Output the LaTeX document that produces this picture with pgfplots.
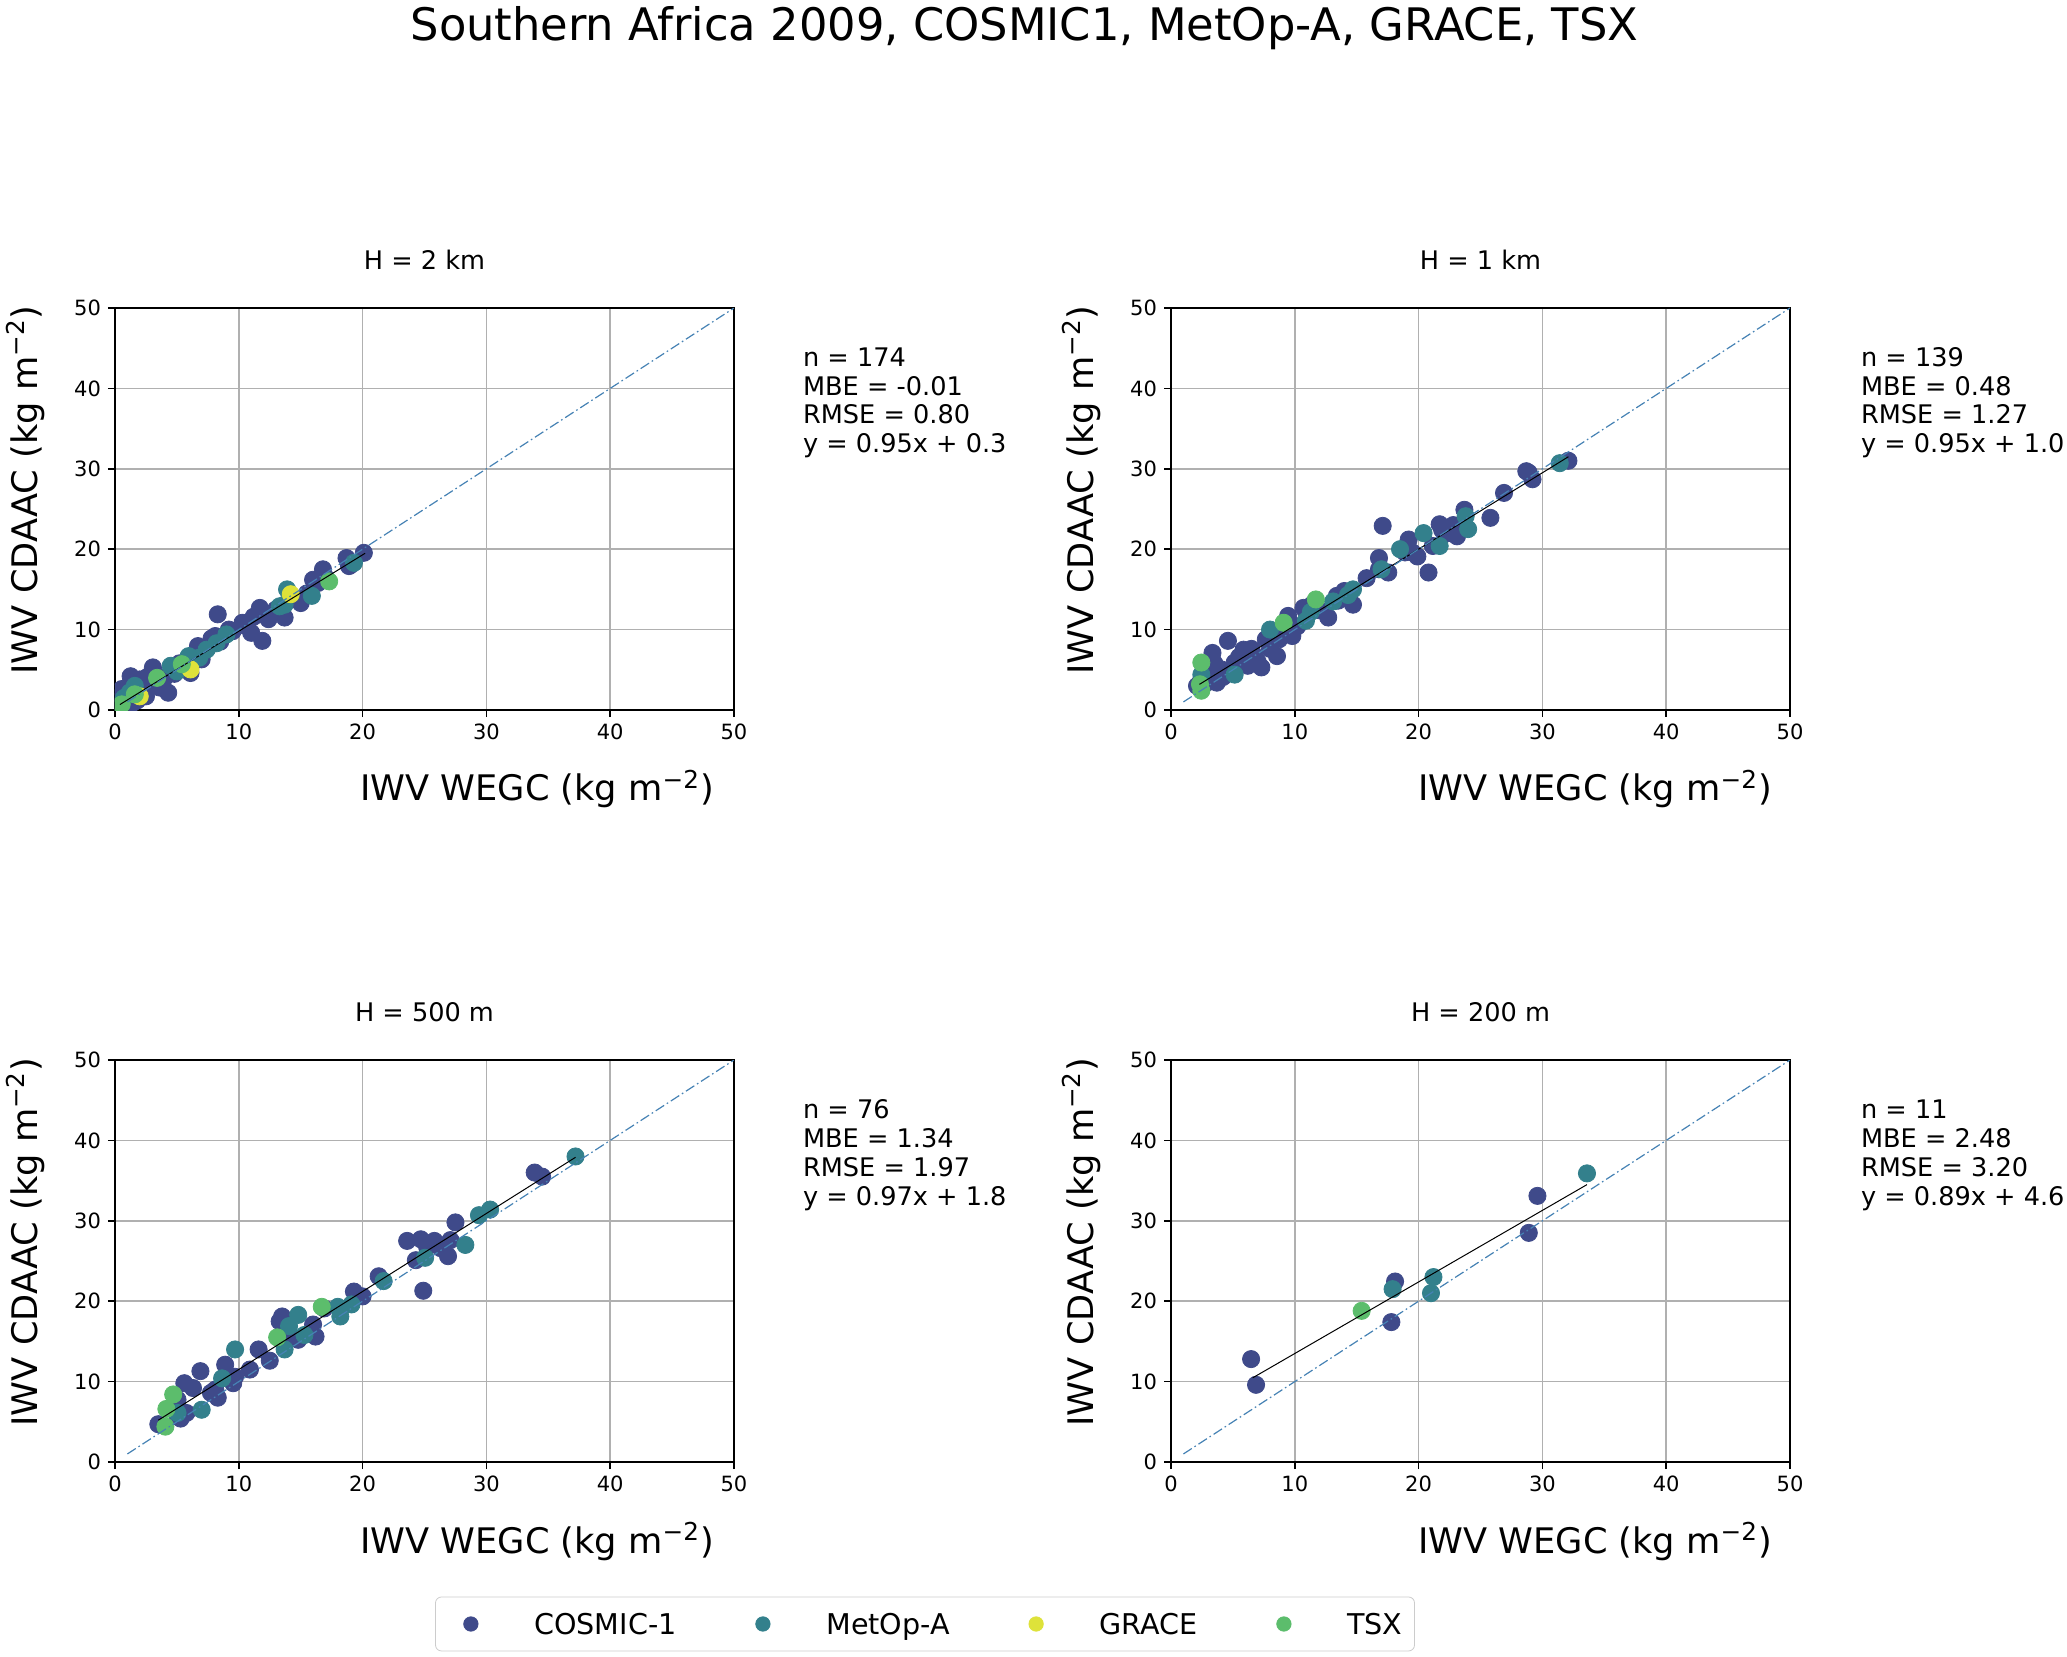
\documentclass[border=0pt]{standalone}
\usepackage{fontspec}
\setmainfont{DejaVu Sans}
\usepackage{pgfplots}
\pgfplotsset{compat=1.18}
\definecolor{cosmic}{HTML}{3F4A8A}
\definecolor{metop}{HTML}{33808C}
\definecolor{grace}{HTML}{DEE23A}
\definecolor{tsx}{HTML}{5CBD6C}
\definecolor{diag}{HTML}{4682B4}
\newcommand{\unitlab}{(kg m\textsuperscript{−2})}
\pgfplotsset{
  panel/.style={
    scale only axis, width=309.5pt, height=201pt, anchor=south west,
    xmin=0, xmax=50, ymin=0, ymax=50,
    xtick={0,10,...,50}, ytick={0,10,...,50},
    grid=major, major grid style={color=black!31, line width=0.8pt},
    tick align=outside, major tick length=3.5pt, tick pos=left,
    axis line style={line width=0.8pt},
    every tick/.style={black, line width=0.8pt},
    ticklabel style={font=\fontsize{10.5}{12}\selectfont},
    /pgf/number format/assume math mode=true,
    clip marker paths=true,
    legend image code/.code={\draw[#1, mark size=3.6pt] plot coordinates {(11.5pt,0pt)}; \path (0pt,0pt) (43pt,0pt);},
  },
  sc/.style={only marks, mark=*, mark size=4.3pt, color=#1, mark options={draw=none, fill=#1}},
  reg/.style={black, line width=0.5pt, forget plot},
  one/.style={diag, line width=0.6pt, dash pattern=on 5pt off 1.6pt on 0.8pt off 1.6pt, forget plot},
}
\begin{document}
\begin{tikzpicture}
\path[use as bounding box] (0pt,0pt) rectangle (1033.5pt,828pt);
\node[anchor=base, font=\fontsize{22.4}{26}\selectfont] at (512.25pt,807.5pt) {Southern Africa 2009, COSMIC1, MetOp-A, GRACE, TSX};

% ---------------- Panel 1: H = 2 km
\begin{axis}[panel, at={(57.5pt,473pt)},
  legend columns=4, legend cell align=left,
  legend style={at={(1.3086,-2.2736)}, anchor=center, draw=black!20, rounded corners=3pt,
    inner xsep=6pt, inner ysep=8.3pt, font=\fontsize{14.3}{16}\selectfont,
    nodes={inner sep=0pt, text height=10.4pt, text depth=0pt},
    /tikz/every even column/.append style={column sep=31.5pt}},
  ]
\addplot[sc=cosmic] coordinates {(0.54,2.6)(1.26,4.2)(2.0,3.8)(0.9,1.3)(2.5,1.7)(3.06,5.3)(4.3,2.15)(3.8,3.4)(5.6,5.05)(6.1,4.6)(6.7,7.95)(7.0,6.3)(8.3,11.9)(8.1,9.2)(9.2,10.0)(10.3,10.85)(11.0,9.6)(11.9,8.6)(11.7,12.7)(12.4,11.3)(13.7,11.5)(15.0,13.3)(16.0,16.2)(16.8,17.5)(18.7,18.9)(18.9,17.9)(20.1,19.55)(1.44,0.9)(0.3,0.5)(0.5,1.8)(1.0,2.8)(1.5,3.5)(2.2,2.5)(2.8,3.0)(3.2,4.5)(3.6,2.8)(4.0,4.0)(4.8,4.5)(5.2,5.8)(6.5,6.2)(7.5,7.8)(8.5,8.5)(9.5,9.8)(10.5,10.5)(12.0,12.0)(13.0,12.5)(14.5,13.8)(15.5,14.5)(17.0,16.5)(19.0,18.0)(1.8,1.2)(0.2,1.0)(2.6,4.1)(4.6,5.2)(7.8,8.9)(11.2,11.6)(16.4,15.8)};
\addlegendentry{COSMIC-1}
\addplot[sc=metop] coordinates {(1.6,3.0)(4.5,5.5)(5.95,6.7)(7.4,7.5)(9.0,9.4)(13.7,13.1)(13.9,15.0)(15.9,14.2)(19.3,18.3)(0.72,1.5)(1.2,2.2)(5.0,4.8)(6.8,6.5)(8.2,8.3)(13.3,12.9)};
\addlegendentry{MetOp-A}
\addplot[sc=grace] coordinates {(2.0,1.7)(6.1,5.05)(14.2,14.4)};
\addlegendentry{GRACE}
\addplot[sc=tsx] coordinates {(0.54,0.7)(1.6,1.95)(3.4,4.0)(5.4,5.7)(17.3,16.0)(0.3,0.2)};
\addlegendentry{TSX}
\addplot[reg] coordinates {(0.4,0.68)(20.2,19.49)};
\addplot[one] coordinates {(1,1)(50,50)};
\end{axis}

% ---------------- Panel 2: H = 1 km
\begin{axis}[panel, at={(585.5pt,473pt)}]
\addplot[sc=cosmic] coordinates {(2.1,3.0)(2.45,3.8)(3.0,4.6)(3.35,7.1)(3.7,3.4)(4.06,5.05)(4.6,8.6)(5.14,5.9)(5.86,7.5)(6.2,5.5)(6.76,6.7)(7.3,5.3)(7.66,8.8)(8.56,6.7)(8.74,8.8)(9.46,11.7)(9.8,9.2)(10.2,10.4)(10.7,12.7)(11.4,13.1)(12.7,11.5)(13.4,14.2)(14.0,14.8)(14.7,13.1)(15.8,16.4)(16.8,18.9)(16.8,17.5)(17.1,22.9)(17.55,17.1)(19.2,21.2)(19.5,19.6)(19.9,19.1)(20.8,17.1)(21.15,20.4)(21.7,23.1)(22.4,22.0)(23.1,21.6)(23.7,24.9)(25.8,23.9)(26.9,27.0)(28.7,29.7)(29.2,28.7)(32.1,31.0)(2.8,3.3)(3.5,5.8)(4.2,4.1)(5.5,6.6)(6.5,7.6)(7.0,6.0)(8.0,7.6)(9.0,9.6)(11.0,11.8)(12.0,12.4)(13.5,13.6)(18.9,19.6)(21.9,22.4)(22.8,23.0)(28.9,29.5)};
\addplot[sc=metop] coordinates {(2.45,4.4)(5.14,4.4)(8.0,10.0)(10.9,11.1)(13.1,13.5)(14.7,15.0)(17.0,17.5)(20.4,22.0)(21.7,20.4)(23.8,24.1)(24.0,22.5)(31.4,30.7)(11.3,12.2)(18.5,20.0)(14.3,14.3)};
\addplot[sc=tsx] coordinates {(2.45,5.9)(2.34,3.2)(2.45,2.4)(9.1,10.85)(11.7,13.75)};
\addplot[reg] coordinates {(2.3,3.19)(32.1,31.5)};
\addplot[one] coordinates {(1,1)(50,50)};
\end{axis}

% ---------------- Panel 3: H = 500 m
\begin{axis}[panel, at={(57.5pt,97pt)}]
\addplot[sc=cosmic] coordinates {(3.5,4.7)(5.05,7.75)(5.05,5.7)(5.77,6.1)(5.6,9.8)(6.3,9.2)(6.9,11.3)(7.75,8.6)(8.1,9.0)(8.9,12.1)(9.55,9.8)(9.7,10.6)(10.9,11.5)(11.6,14.0)(12.5,12.6)(13.5,18.1)(13.3,17.5)(14.2,15.6)(16.0,17.1)(16.2,15.6)(16.9,19.1)(19.3,21.2)(20.0,20.6)(21.3,23.1)(23.6,27.5)(24.7,27.7)(25.8,27.5)(24.3,25.1)(26.3,26.6)(26.9,25.6)(27.1,27.6)(24.9,21.3)(27.5,29.8)(33.9,36.0)(34.5,35.5)(5.3,5.4)(8.3,8.0)(14.8,15.2)(25.2,26.8)};
\addplot[sc=metop] coordinates {(5.05,6.1)(7.0,6.5)(8.65,10.4)(9.7,14.0)(13.7,14.0)(14.06,16.9)(14.8,18.3)(15.3,15.8)(18.2,18.1)(18.0,19.3)(19.1,19.6)(21.7,22.5)(25.05,25.4)(28.3,27.0)(29.4,30.7)(30.3,31.4)(37.2,38.0)};
\addplot[sc=tsx] coordinates {(4.07,4.4)(4.15,6.6)(4.7,8.4)(13.1,15.5)(16.7,19.3)};
\addplot[reg] coordinates {(3.5,5.2)(37.2,37.9)};
\addplot[one] coordinates {(1,1)(50,50)};
\end{axis}

% ---------------- Panel 4: H = 200 m
\begin{axis}[panel, at={(585.5pt,97pt)}]
\addplot[sc=cosmic] coordinates {(6.47,12.8)(6.87,9.6)(18.1,22.45)(17.8,17.4)(28.9,28.5)(29.6,33.1)};
\addplot[sc=metop] coordinates {(17.9,21.5)(21.2,23.0)(21.0,21.0)(33.6,35.9)};
\addplot[sc=tsx] coordinates {(15.4,18.8)};
\addplot[reg] coordinates {(6.6,10.47)(33.6,34.5)};
\addplot[one] coordinates {(1,1)(50,50)};
\end{axis}

% ---------------- Texts
\begin{scope}[every node/.style={font=\fontsize{12.8}{14}\selectfont}]
\node[anchor=base] at (212.25pt,693pt) {H = 2 km};
\node[anchor=base] at (740.25pt,693pt) {H = 1 km};
\node[anchor=base] at (212.25pt,317.25pt) {H = 500 m};
\node[anchor=base] at (740.25pt,317.25pt) {H = 200 m};
% stats panel 1
\node[anchor=base west] at (398pt,644.5pt) {n = 174};
\node[anchor=base west] at (398pt,630pt) {MBE = -0.01};
\node[anchor=base west] at (398pt,616pt) {RMSE = 0.80};
\node[anchor=base west] at (398pt,601.5pt) {y = 0.95x + 0.3};
% stats panel 2
\node[anchor=base west] at (927pt,644.5pt) {n = 139};
\node[anchor=base west] at (927pt,630pt) {MBE = 0.48};
\node[anchor=base west] at (927pt,616pt) {RMSE = 1.27};
\node[anchor=base west] at (927pt,601.5pt) {y = 0.95x + 1.0};
% stats panel 3
\node[anchor=base west] at (398pt,268.5pt) {n = 76};
\node[anchor=base west] at (398pt,254pt) {MBE = 1.34};
\node[anchor=base west] at (398pt,240pt) {RMSE = 1.97};
\node[anchor=base west] at (398pt,225.5pt) {y = 0.97x + 1.8};
% stats panel 4
\node[anchor=base west] at (927pt,268.5pt) {n = 11};
\node[anchor=base west] at (927pt,254pt) {MBE = 2.48};
\node[anchor=base west] at (927pt,240pt) {RMSE = 3.20};
\node[anchor=base west] at (927pt,225.5pt) {y = 0.89x + 4.6};
\end{scope}
\begin{scope}[every node/.style={font=\fontsize{17.6}{20}\selectfont}]
\node[anchor=base] at (268.5pt,427.5pt) {IWV WEGC \unitlab};
\node[anchor=base] at (797.5pt,427.5pt) {IWV WEGC \unitlab};
\node[anchor=base] at (268.5pt,51.5pt) {IWV WEGC \unitlab};
\node[anchor=base] at (797.5pt,51.5pt) {IWV WEGC \unitlab};
\node[anchor=base, rotate=90] at (18.5pt,583pt) {IWV CDAAC \unitlab};
\node[anchor=base, rotate=90] at (546.5pt,583pt) {IWV CDAAC \unitlab};
\node[anchor=base, rotate=90] at (18.5pt,207pt) {IWV CDAAC \unitlab};
\node[anchor=base, rotate=90] at (546.5pt,207pt) {IWV CDAAC \unitlab};
\end{scope}
\end{tikzpicture}
\end{document}
